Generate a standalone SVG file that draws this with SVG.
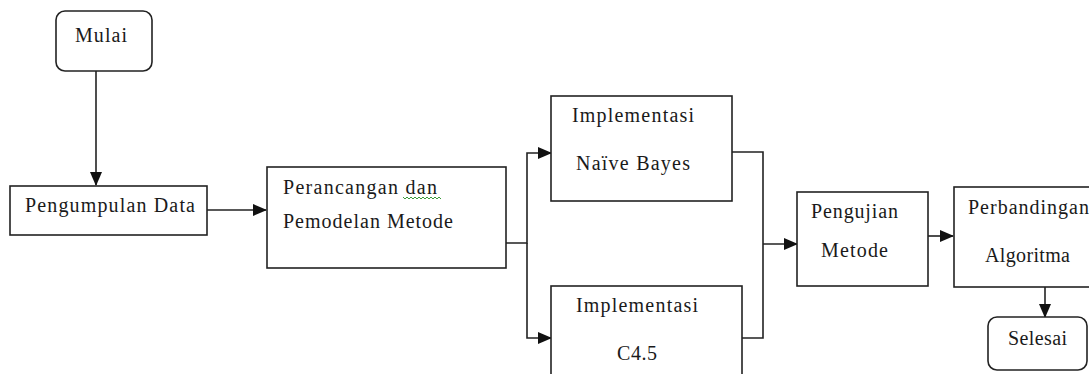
<svg xmlns="http://www.w3.org/2000/svg" width="1089" height="374" viewBox="0 0 1089 374">
<defs>
<marker id="arr" markerUnits="userSpaceOnUse" markerWidth="14" markerHeight="12" refX="13" refY="6" orient="auto">
<path d="M0,0 L14,6 L0,12 Z" fill="#111"/>
</marker>
<style>
.box{fill:#fff;stroke:#222;stroke-width:1.6}
.ln{fill:none;stroke:#222;stroke-width:1.6}
text{font-family:'Liberation Serif','Times New Roman','DejaVu Serif',serif;font-size:20px;fill:#1a1a1a}
</style>
</defs>
<rect width="1089" height="374" fill="#fff"/>
<g id="connectors">
<path class="ln" d="M96,71 V185" marker-end="url(#arr)"/>
<path class="ln" d="M207,210 H266" marker-end="url(#arr)"/>
<path class="ln" d="M505,243 H527 V153 H551" marker-end="url(#arr)"/>
<path class="ln" d="M527,243 V338 H551" marker-end="url(#arr)"/>
<path class="ln" d="M732,152 H763 V338 H742"/>
<path class="ln" d="M763,244 H797" marker-end="url(#arr)"/>
<path class="ln" d="M928,236 H953" marker-end="url(#arr)"/>
<path class="ln" d="M1045,287 V317" marker-end="url(#arr)"/>
</g>
<g id="mulai">
<rect class="box" x="56" y="11" width="96" height="60" rx="9"/>
<text x="75" y="42" textLength="52" lengthAdjust="spacing">Mulai</text>
</g>
<g id="pengumpulan">
<rect class="box" x="10" y="186" width="197" height="49"/>
<text x="25" y="212" textLength="170" lengthAdjust="spacing">Pengumpulan Data</text>
</g>
<g id="perancangan">
<rect class="box" x="267" y="167" width="239" height="101"/>
<text x="283" y="194" textLength="154" lengthAdjust="spacing">Perancangan dan</text>
<path d="M403,197 l2,2 l2,-2 l2,2 l2,-2 l2,2 l2,-2 l2,2 l2,-2 l2,2 l2,-2 l2,2 l2,-2 l2,2 l2,-2 l2,2 l2,-2 l2,2 l2,-2 l2,2" fill="none" stroke="#3a9a3a" stroke-width="1"/>
<text x="283" y="228" textLength="170" lengthAdjust="spacing">Pemodelan Metode</text>
</g>
<g id="naive-bayes">
<rect class="box" x="551" y="96" width="181" height="105"/>
<text x="572" y="122" textLength="122" lengthAdjust="spacing">Implementasi</text>
<text x="576" y="170" textLength="114" lengthAdjust="spacing">Naïve Bayes</text>
</g>
<g id="c45">
<rect class="box" x="551" y="286" width="191" height="100"/>
<text x="576" y="312" textLength="122" lengthAdjust="spacing">Implementasi</text>
<text x="617" y="360" textLength="40" lengthAdjust="spacing">C4.5</text>
</g>
<g id="pengujian">
<rect class="box" x="797" y="192" width="131" height="94"/>
<text x="811" y="218" textLength="87" lengthAdjust="spacing">Pengujian</text>
<text x="821" y="257" textLength="67" lengthAdjust="spacing">Metode</text>
</g>
<g id="perbandingan">
<rect class="box" x="954" y="187" width="145" height="100"/>
<text x="968" y="214" textLength="121" lengthAdjust="spacing">Perbandingan</text>
<text x="985" y="262" textLength="85" lengthAdjust="spacing">Algoritma</text>
</g>
<g id="selesai">
<rect class="box" x="988" y="317" width="99" height="53" rx="9"/>
<text x="1008" y="345" textLength="59" lengthAdjust="spacing">Selesai</text>
</g>
</svg>
